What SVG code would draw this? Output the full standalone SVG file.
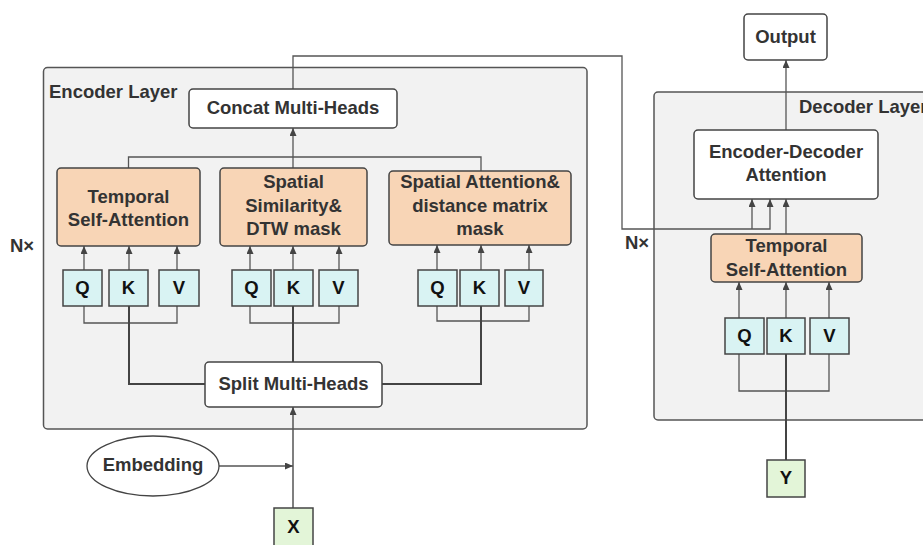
<svg xmlns="http://www.w3.org/2000/svg" width="923" height="545" viewBox="0 0 923 545">
  <style>
    text { font-family: "Liberation Sans", Arial, sans-serif; font-weight: bold; font-size: 18.5px; fill: #333; text-anchor: middle; }
    .lbl { text-anchor: start; }
    .qkv { fill: #111; }
    .panel { fill: #f2f2f2; stroke: #555; stroke-width: 1.5; }
    .box { fill: #fff; stroke: #444; stroke-width: 1.5; }
    .attn { fill: #f8d5b6; stroke: #444; stroke-width: 1.5; }
    .key { fill: #d9f3f3; stroke: #444; stroke-width: 1.5; }
    .input { fill: #e3f5d8; stroke: #444; stroke-width: 1.5; }
    .wire { fill: none; stroke: #555; stroke-width: 1.3; }
    .bold { fill: none; stroke: #444; stroke-width: 2; }
    .arrow { marker-end: url(#head); }
  </style>
  <defs>
    <marker id="head" markerUnits="userSpaceOnUse" markerWidth="8" markerHeight="8" refX="8" refY="3.5" orient="auto">
      <path d="M0,0 L8,3.5 L0,7 z" fill="#444"/>
    </marker>
  </defs>

  <rect width="923" height="545" fill="#fff"/>

  <!-- layer panels -->
  <g id="encoder-layer">
    <rect class="panel" x="43.5" y="67.5" width="543.5" height="361.5" rx="4"/>
    <text class="lbl" x="49" y="98">Encoder Layer</text>
  </g>
  <g id="decoder-layer">
    <rect class="panel" x="654" y="92" width="300" height="328" rx="4"/>
    <text class="lbl" x="799" y="113">Decoder Layer</text>
  </g>
  <g id="repeat-marks">
    <text class="lbl" x="10" y="252">N×</text>
    <text class="lbl" x="625" y="249">N×</text>
  </g>

  <!-- connectors -->
  <g id="connectors">
    <!-- encoder output to decoder cross-attention -->
    <path class="wire arrow" d="M293,89 V56 H622 V229 H770 V199"/>
    <path class="wire arrow" d="M752,229 V199"/>
    <!-- heads into concat -->
    <path class="wire" d="M128.5,168 V157 H481 V171"/>
    <path class="wire arrow" d="M293,168 V128"/>
    <!-- group 1 -->
    <path class="wire arrow" d="M84,270 V246"/>
    <path class="wire arrow" d="M129,270 V246"/>
    <path class="wire arrow" d="M177,270 V246"/>
    <path class="wire" d="M84,306 V323 H177 V306"/>
    <path class="bold" d="M129,306 V384 H205"/>
    <!-- group 2 -->
    <path class="wire arrow" d="M250,270 V246"/>
    <path class="wire arrow" d="M293,270 V246"/>
    <path class="wire arrow" d="M339,270 V246"/>
    <path class="wire" d="M250,306 V323 H339 V306"/>
    <path class="bold" d="M293,306 V362"/>
    <!-- group 3 -->
    <path class="wire arrow" d="M437,270 V245"/>
    <path class="wire arrow" d="M481,270 V245"/>
    <path class="wire arrow" d="M529,270 V245"/>
    <path class="wire" d="M437,306 V321 H529 V306"/>
    <path class="bold" d="M481,306 V384 H382"/>
    <!-- inputs -->
    <path class="wire arrow" d="M293,508 V407" style="stroke-width:1.5"/>
    <path class="wire arrow" d="M219,466 H293"/>
    <!-- decoder -->
    <path class="wire arrow" d="M739,318 V282"/>
    <path class="wire arrow" d="M786,318 V282"/>
    <path class="wire arrow" d="M829,318 V282"/>
    <path class="wire" d="M739,354 V391 H829 V354"/>
    <path class="bold" d="M786,354 V460"/>
    <path class="wire arrow" d="M786,234 V199"/>
    <path class="wire arrow" d="M786,130 V60"/>
  </g>

  <!-- encoder nodes -->
  <g id="concat">
    <rect class="box" x="189" y="89" width="208" height="39" rx="4"/>
    <text x="293" y="114">Concat Multi-Heads</text>
  </g>
  <g id="temporal-attn">
    <rect class="attn" x="57" y="168" width="143" height="78" rx="4"/>
    <text x="128.5" y="203">Temporal</text>
    <text x="128.5" y="226">Self-Attention</text>
  </g>
  <g id="spatial-similarity">
    <rect class="attn" x="220" y="168" width="147" height="78" rx="4"/>
    <text x="293.5" y="188">Spatial</text>
    <text x="293.5" y="211.5">Similarity&amp;</text>
    <text x="293.5" y="234.5">DTW mask</text>
  </g>
  <g id="spatial-distance">
    <rect class="attn" x="389" y="171" width="182" height="74" rx="4"/>
    <text x="480" y="188">Spatial Attention&amp;</text>
    <text x="480" y="211.5">distance matrix</text>
    <text x="480" y="234.5">mask</text>
  </g>
  <g id="qkv-1">
    <rect class="key" x="63" y="270" width="39" height="36"/>
    <rect class="key" x="109" y="270" width="39" height="36"/>
    <rect class="key" x="159" y="270" width="40" height="36"/>
    <text class="qkv" x="82.5" y="294">Q</text>
    <text class="qkv" x="128.5" y="294">K</text>
    <text class="qkv" x="179" y="294">V</text>
  </g>
  <g id="qkv-2">
    <rect class="key" x="232" y="270" width="39" height="36"/>
    <rect class="key" x="274" y="270" width="39" height="36"/>
    <rect class="key" x="319" y="270" width="39" height="36"/>
    <text class="qkv" x="251.5" y="294">Q</text>
    <text class="qkv" x="293.5" y="294">K</text>
    <text class="qkv" x="338.5" y="294">V</text>
  </g>
  <g id="qkv-3">
    <rect class="key" x="418" y="270" width="39" height="36"/>
    <rect class="key" x="460" y="270" width="39" height="36"/>
    <rect class="key" x="505" y="270" width="38" height="36"/>
    <text class="qkv" x="437.5" y="294">Q</text>
    <text class="qkv" x="479.5" y="294">K</text>
    <text class="qkv" x="524" y="294">V</text>
  </g>
  <g id="split">
    <rect class="box" x="205" y="362" width="177" height="45" rx="4"/>
    <text x="293.5" y="390">Split Multi-Heads</text>
  </g>
  <g id="embedding">
    <ellipse fill="#fff" stroke="#444" stroke-width="1.3" cx="153" cy="466" rx="66" ry="30"/>
    <text x="153" y="471">Embedding</text>
  </g>
  <g id="input-x">
    <rect class="input" x="274" y="508" width="39" height="38"/>
    <text class="qkv" x="293.5" y="533">X</text>
  </g>

  <!-- decoder nodes -->
  <g id="output">
    <rect class="box" x="744" y="14" width="83" height="46" rx="4"/>
    <text x="785.5" y="43">Output</text>
  </g>
  <g id="enc-dec-attn">
    <rect class="box" x="694" y="130" width="184" height="69" rx="4"/>
    <text x="786" y="158">Encoder-Decoder</text>
    <text x="786" y="181">Attention</text>
  </g>
  <g id="dec-temporal-attn">
    <rect class="attn" x="711" y="234" width="151" height="48" rx="4"/>
    <text x="786.5" y="252">Temporal</text>
    <text x="786.5" y="276">Self-Attention</text>
  </g>
  <g id="dec-qkv">
    <rect class="key" x="725" y="318" width="39" height="36"/>
    <rect class="key" x="767" y="318" width="38" height="36"/>
    <rect class="key" x="810" y="318" width="39" height="36"/>
    <text class="qkv" x="744.5" y="342">Q</text>
    <text class="qkv" x="786" y="342">K</text>
    <text class="qkv" x="829.5" y="342">V</text>
  </g>
  <g id="input-y">
    <rect class="input" x="767" y="460" width="38" height="37"/>
    <text class="qkv" x="786" y="484">Y</text>
  </g>
</svg>
